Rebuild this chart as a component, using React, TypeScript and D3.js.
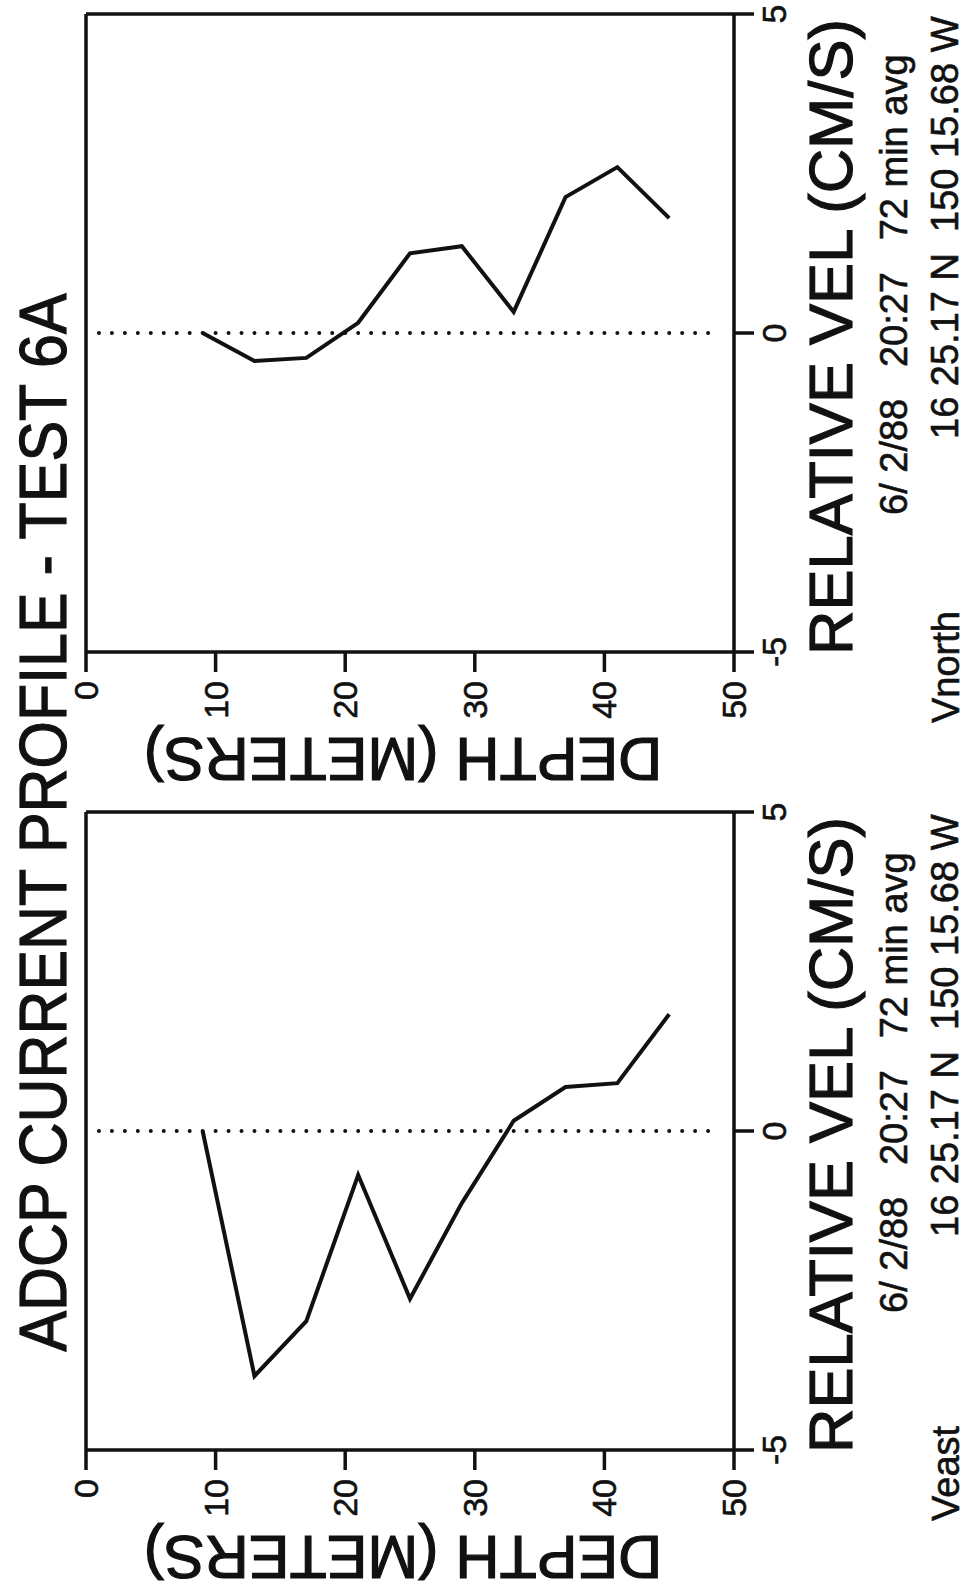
import React from "react";
import * as d3 from "d3";

// ---- data ----
const depths = [9, 13, 17, 21, 25, 29, 33, 37, 41, 45];
const vNorth = [0.0, -0.44, -0.39, 0.16, 1.25, 1.36, 0.33, 2.13, 2.6, 1.8];
const vEast = [0.0, -3.84, -2.98, -0.69, -2.63, -1.13, 0.16, 0.69, 0.75, 1.83];
const depthTicks = [0, 10, 20, 30, 40, 50];
const velTicks = [-5, 0, 5];
const panelNames = ["Vnorth", "Veast"];
const title = "ADCP CURRENT PROFILE - TEST 6A";
const velLabel = "RELATIVE VEL (CM/S)";
const depthLabel = "DEPTH (METERS)";
const infoLine1 = ["6/ 2/88", "20:27", "72 min avg"];
const infoLine2 = "16 25.17 N  150 15.68 W";

const W = 969;
const H = 1594;
const FONT = "'Liberation Sans', Arial, Helvetica, sans-serif";
const INK = "#111";

function Panel({ values, name, top }: { values: number[]; name: string; top: number }) {
  const x = d3.scaleLinear().domain([0, 50]).range([86, 734]);
  const y = d3.scaleLinear().domain([-5, 5]).range([top + 638, top]);
  const pts = depths.map((d, i) => [d, values[i]] as [number, number]);
  const line = d3
    .line<[number, number]>()
    .x((d) => x(d[0]))
    .y((d) => y(d[1]));
  const x0 = x(0);
  const x1 = x(50);
  const yTop = y(5);
  const yBot = y(-5);
  const tickLen = 20;
  const sw = 3.5;
  return (
    <g>
      {/* frame */}
      <line x1={x0} y1={yTop} x2={x1} y2={yTop} stroke={INK} strokeWidth={sw} />
      <line x1={x0} y1={yTop} x2={x0} y2={yBot} stroke={INK} strokeWidth={sw} />
      <line x1={x0} y1={yBot} x2={x1} y2={yBot} stroke={INK} strokeWidth={sw} />
      <line x1={x1} y1={yTop} x2={x1} y2={yBot} stroke={INK} strokeWidth={sw} />
      {/* velocity ticks */}
      {velTicks.map((v) => (
        <g key={"v" + v}>
          <line x1={x1} y1={y(v)} x2={x1 + tickLen} y2={y(v)} stroke={INK} strokeWidth={sw} />
          <text
            transform={`translate(${x1 + 52},${y(v)}) rotate(-90)`}
            textAnchor="middle"
            fontSize={34}
            fontFamily={FONT}
            fill={INK}
            stroke={INK}
            strokeWidth={0.6}
          >
            {String(v)}
          </text>
        </g>
      ))}
      {/* depth ticks */}
      {depthTicks.map((d) => (
        <g key={"d" + d}>
          <line x1={x(d)} y1={yBot} x2={x(d)} y2={yBot + tickLen} stroke={INK} strokeWidth={sw} />
          <text
            transform={`translate(${x(d) + 12},${yBot + 29}) rotate(-90)`}
            textAnchor="end"
            fontSize={34}
            fontFamily={FONT}
            fill={INK}
            stroke={INK}
            strokeWidth={0.6}
          >
            {String(d)}
          </text>
        </g>
      ))}
      {/* zero dotted line */}
      <line
        x1={x(1)}
        y1={y(0)}
        x2={x(49)}
        y2={y(0)}
        stroke={INK}
        strokeWidth={4}
        strokeLinecap="round"
        strokeDasharray={`0 ${x(2) - x(1)}`}
      />
      {/* profile */}
      <path d={line(pts) || ""} fill="none" stroke={INK} strokeWidth={4} strokeLinejoin="miter" />
      {/* depth axis label (upside down) */}
      <text
        transform={`translate(403,${yBot + 86}) rotate(180)`}
        textAnchor="middle"
        fontSize={61}
        fontFamily={FONT}
        fill={INK}
        stroke={INK}
        strokeWidth={1.2}
      >
        {depthLabel}
      </text>
      {/* velocity label */}
      <text
        transform={`translate(852,${yBot + 3}) rotate(-90)`}
        textAnchor="start"
        fontSize={62}
        fontFamily={FONT}
        fill={INK}
        stroke={INK}
        strokeWidth={1.2}
        textLength={636}
        lengthAdjust="spacingAndGlyphs"
      >
        {velLabel}
      </text>
      {/* info lines */}
      <text
        transform={`translate(907,${yBot - 137}) rotate(-90)`}
        textAnchor="start"
        fontSize={38}
        fontFamily={FONT}
        fill={INK}
        stroke={INK}
        strokeWidth={0.6}
        style={{ whiteSpace: "pre" }}
      >
        {infoLine1.join("   ")}
      </text>
      <text
        transform={`translate(958,${yBot - 213}) rotate(-90)`}
        textAnchor="start"
        fontSize={38}
        fontFamily={FONT}
        fill={INK}
        stroke={INK}
        strokeWidth={0.6}
        style={{ whiteSpace: "pre" }}
      >
        {infoLine2}
      </text>
      <text
        transform={`translate(959,${yBot + 71}) rotate(-90)`}
        textAnchor="start"
        fontSize={38}
        fontFamily={FONT}
        fill={INK}
        stroke={INK}
        strokeWidth={0.6}
      >
        {name}
      </text>
    </g>
  );
}

export default function App() {
  return (
    <svg
      width={W}
      height={H}
      viewBox={`0 0 ${W} ${H}`}
      style={{ position: "absolute", left: 0, top: 0, background: "#fff" }}
    >
      <rect x={0} y={0} width={W} height={H} fill="#fff" />
      <text
        transform={`translate(66,${(295 + 1350) / 2}) rotate(-90)`}
        textAnchor="middle"
        fontSize={66}
        fontFamily={FONT}
        fill={INK}
        stroke={INK}
        strokeWidth={1.2}
        textLength={1058}
        lengthAdjust="spacingAndGlyphs"
      >
        {title}
      </text>
      <Panel values={vNorth} name={panelNames[0]} top={14} />
      <Panel values={vEast} name={panelNames[1]} top={812} />
    </svg>
  );
}
